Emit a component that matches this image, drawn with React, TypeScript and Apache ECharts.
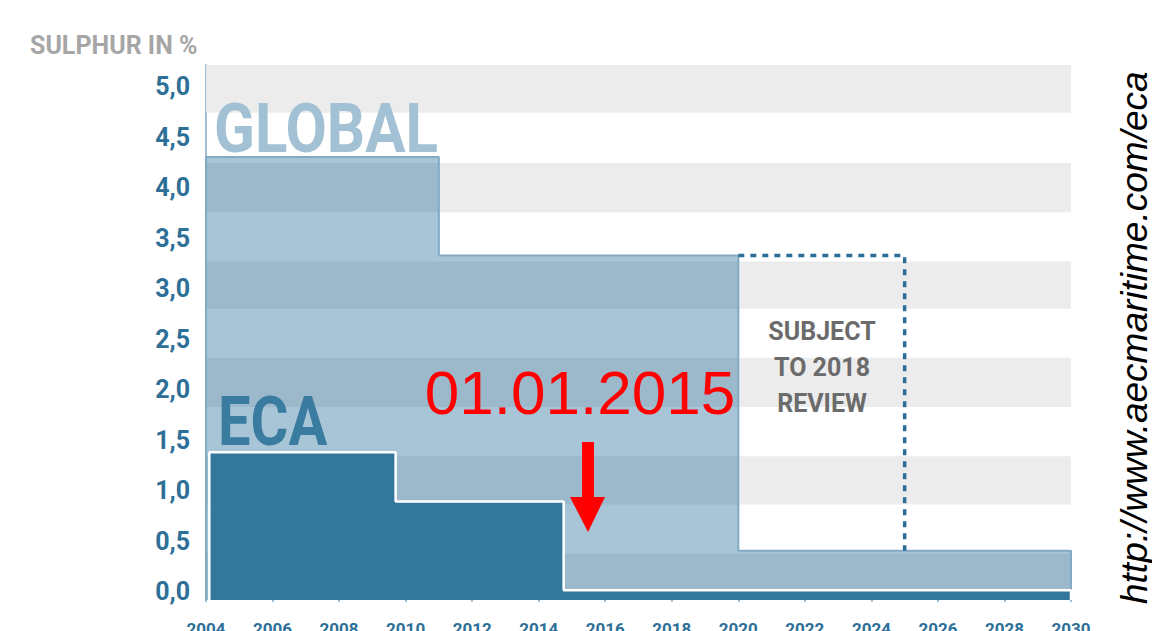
import React, { useEffect, useRef } from "react";
import * as echarts from "echarts";

// Y tick labels (visible axis)
const yTickValues = [0, 0.5, 1, 1.5, 2, 2.5, 3, 3.5, 4, 4.5, 5];

// Global sulphur cap (step outline)
const globalYears = [2004, 2004, 2011, 2011, 2020, 2020, 2030, 2030];
const globalValues = [0, 4.5, 4.5, 3.5, 3.5, 0.5, 0.5, 0];

// ECA sulphur cap (step outline)
const ecaYears = [2004.1, 2004.1, 2009.7, 2009.7, 2014.75, 2014.75, 2030, 2030];
const ecaValues = [0, 1.5, 1.5, 1.0, 1.0, 0.1, 0.1, 0];

// "Subject to 2018 review" dashed outline
const reviewYears = [2020, 2025, 2025];
const reviewValues = [3.5, 3.5, 0.5];

// Background stripes (data-axis units)
const bandLow = [0, 0.97, 1.96, 2.96, 3.94, 4.95];
const bandHigh = [0.47, 1.46, 2.46, 3.44, 4.44, 5.435];

const zip = (xs: number[], ys: number[]) => xs.map((x, i) => [x, ys[i]]);

export default function App() {
  const ref = useRef<HTMLDivElement>(null);

  useEffect(() => {
    const chart = echarts.init(ref.current!, null, { renderer: "svg" });
    const labelColor = "#2d6f97";
    const axisColor = "#9ebfd3";

    const option: any = {
      animation: false,
      backgroundColor: "#ffffff",
      grid: {
        left: 206,
        right: 81,
        top: 65,
        bottom: 31,
        containLabel: false,
        outerBoundsMode: "none",
      },
      xAxis: {
        type: "value",
        min: 2004,
        max: 2030,
        interval: 2,
        axisLine: { show: true, lineStyle: { color: axisColor, width: 2 } },
        axisTick: { show: true, length: 10, lineStyle: { color: axisColor, width: 2 } },
        minorTick: { show: true, splitNumber: 2, length: 6, lineStyle: { color: "#c9dbe6", width: 1.5 } },
        splitLine: { show: false },
        minorSplitLine: { show: false },
        axisLabel: {
          color: labelColor,
          fontFamily: "Roboto",
          fontWeight: "bold",
          fontSize: 17,
          margin: 20,
          formatter: (v: number) => String(v),
        },
      },
      yAxis: [
        {
          type: "value",
          position: "left",
          min: -0.0792,
          max: 5.2147,
          axisLine: { show: true, lineStyle: { color: axisColor, width: 2 } },
          axisTick: { show: false },
          splitLine: { show: false },
          axisLabel: {
            customValues: yTickValues,
            color: labelColor,
            fontFamily: "Roboto",
            fontWeight: "bold",
            fontSize: 25,
            margin: 16,
            formatter: (v: number) => v.toFixed(1).replace(".", ","),
          },
        },
        {
          type: "value",
          min: 0,
          max: 5.435,
          show: false,
          splitLine: { show: false },
        },
      ],
      series: [
        {
          name: "bands",
          type: "line",
          yAxisIndex: 1,
          data: [],
          silent: true,
          z: 1,
          markArea: {
            silent: true,
            itemStyle: { color: "#ececec" },
            data: bandLow.map((lo, i) => [
              { xAxis: 2004, yAxis: lo },
              { xAxis: 2030, yAxis: bandHigh[i] },
            ]),
          },
        },
        {
          name: "GLOBAL",
          type: "line",
          yAxisIndex: 1,
          data: zip(globalYears, globalValues),
          showSymbol: false,
          symbol: "none",
          z: 2,
          lineStyle: { color: "#84aac3", width: 2 },
          areaStyle: { color: "rgba(37,110,157,0.4)", opacity: 1 },
        },
        {
          name: "ECA",
          type: "line",
          yAxisIndex: 1,
          data: zip(ecaYears, ecaValues),
          showSymbol: false,
          symbol: "none",
          z: 3,
          lineStyle: { color: "#ffffff", width: 2.5 },
          areaStyle: { color: "#33789c", opacity: 1 },
        },
        {
          name: "review",
          type: "line",
          yAxisIndex: 1,
          data: zip(reviewYears, reviewValues),
          showSymbol: false,
          symbol: "none",
          z: 4,
          lineStyle: { color: "#2b6e97", width: 3.5, type: [6, 6] },
        },
      ],
      graphic: [
        {
          type: "text",
          x: 30,
          y: 45,
          z: 100,
          style: { text: "SULPHUR IN %", fill: "#a6a6a6", font: "bold 25px Roboto", align: "left", verticalAlign: "middle" },
        },
        {
          type: "text",
          x: 214,
          y: 129,
          scaleX: 0.87,
          z: 100,
          style: { text: "GLOBAL", fill: "#a3c1d5", font: "bold 69px Roboto", align: "left", verticalAlign: "middle" },
        },
        {
          type: "text",
          x: 218,
          y: 422,
          scaleX: 0.84,
          z: 100,
          style: { text: "ECA", fill: "#3a7ba0", font: "bold 69px Roboto", align: "left", verticalAlign: "middle" },
        },
        {
          type: "text",
          x: 822,
          y: 367,
          z: 100,
          style: {
            text: "SUBJECT\nTO 2018\nREVIEW",
            fill: "#6b6b6b",
            font: "bold 25px Roboto",
            lineHeight: 36,
            align: "center",
            verticalAlign: "middle",
          },
        },
        {
          type: "text",
          x: 580,
          y: 392,
          z: 100,
          style: { text: "01.01.2015", fill: "#ff0000", font: '62px "Liberation Sans"', align: "center", verticalAlign: "middle" },
        },
        {
          type: "polygon",
          z: 100,
          shape: {
            points: [
              [582, 442],
              [594, 442],
              [594, 497],
              [605, 497],
              [588, 532],
              [570, 497],
              [582, 497],
            ],
          },
          style: { fill: "#ff0000" },
        },
        {
          type: "text",
          x: 1134,
          y: 604,
          rotation: Math.PI / 2,
          z: 100,
          style: {
            text: "http://www.aecmaritime.com/eca",
            fill: "#000000",
            font: 'italic 37px "Liberation Sans"',
            align: "left",
            verticalAlign: "middle",
          },
        },
      ],
    };

    chart.setOption(option);
    return () => chart.dispose();
  }, []);

  return (
    <div
      ref={ref}
      style={{ position: "fixed", left: 0, top: 0, width: 1152, height: 631, background: "#ffffff" }}
    />
  );
}
